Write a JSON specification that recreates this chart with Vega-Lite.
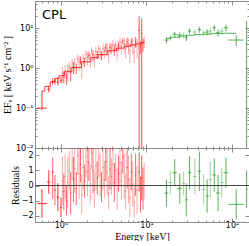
{
"$schema": "https://vega.github.io/schema/vega-lite/v6.json",
"padding": {"left": 2, "top": 0, "right": 2, "bottom": 0},
"spacing": 0,
"bounds": "flush",
"config": {"view": {"stroke": null}, "axis": {"domainColor": "#8c8c8c", "tickColor": "#8c8c8c", "labelFont": "DejaVu Sans", "labelFontSize": 8, "labelColor": "black", "titleFont": "Liberation Serif", "titleFontSize": 10, "titleFontWeight": "normal", "titleColor": "black", "grid": false, "labelOverlap": false, "labelFlush": false}},
"datasets": {
"red": [
{"E":0.60,"El":0.524,"Eh":0.686,"F":0.10,"Fl":0.09,"Fh":0.27,"R":-1.2,"Rl":-2.17,"Rh":-0.23,"o":0.8},
{"E":0.72,"El":0.69,"Eh":0.75,"F":0.30,"Fl":0.25,"Fh":0.36,"R":0.23,"Rl":-0.55,"Rh":1.01,"o":0.8},
{"E":0.80,"El":0.77,"Eh":0.83,"F":0.47,"Fl":0.38,"Fh":0.57,"R":0.9,"Rl":-0.9,"Rh":1.85,"o":0.6},
{"E":0.85,"El":0.83,"Eh":0.88,"F":0.47,"Fl":0.39,"Fh":0.56,"R":-0.3,"Rl":-1.3,"Rh":0.7,"o":0.6},
{"E":0.92,"El":0.89,"Eh":0.95,"F":0.45,"Fl":0.37,"Fh":0.60,"R":-0.77,"Rl":-1.7,"Rh":0.15,"o":0.8},
{"E":1.00,"El":0.97,"Eh":1.02,"F":0.50,"Fl":0.42,"Fh":0.60,"R":-1.47,"Rl":-2.1,"Rh":-0.8,"o":0.8},
{"E":1.04,"El":1.02,"Eh":1.06,"F":0.741,"Fl":0.415,"Fh":1.068,"R":0.3,"Rl":-1.3,"Rh":1.9,"o":0.35},
{"E":1.08,"El":1.06,"Eh":1.10,"F":0.639,"Fl":0.426,"Fh":0.852,"R":-0.4,"Rl":-1.6,"Rh":0.8,"o":0.6},
{"E":1.12,"El":1.10,"Eh":1.14,"F":0.873,"Fl":0.54,"Fh":1.206,"R":0.6,"Rl":-0.9,"Rh":2.1,"o":0.35},
{"E":1.16,"El":1.14,"Eh":1.18,"F":0.578,"Fl":0.385,"Fh":0.77,"R":-1.0,"Rl":-2.0,"Rh":0.0,"o":0.6},
{"E":1.20,"El":1.18,"Eh":1.225,"F":0.869,"Fl":0.451,"Fh":1.287,"R":0.2,"Rl":-1.5,"Rh":1.9,"o":0.35},
{"E":1.25,"El":1.225,"Eh":1.275,"F":1.118,"Fl":0.783,"Fh":1.453,"R":1.0,"Rl":-0.3,"Rh":2.3,"o":0.35},
{"E":1.30,"El":1.275,"Eh":1.325,"F":0.779,"Fl":0.467,"Fh":1.09,"R":-0.5,"Rl":-1.9,"Rh":0.9,"o":0.6},
{"E":1.35,"El":1.325,"Eh":1.375,"F":1.376,"Fl":1.042,"Fh":1.711,"R":1.6,"Rl":0.4,"Rh":2.8,"o":0.35},
{"E":1.40,"El":1.375,"Eh":1.425,"F":1.067,"Fl":0.703,"Fh":1.431,"R":0.4,"Rl":-1.1,"Rh":1.9,"o":0.6},
{"E":1.45,"El":1.425,"Eh":1.48,"F":1.343,"Fl":0.859,"Fh":1.828,"R":1.1,"Rl":-0.5,"Rh":2.7,"o":0.35},
{"E":1.51,"El":1.48,"Eh":1.54,"F":1.007,"Fl":0.716,"Fh":1.299,"R":-0.2,"Rl":-1.3,"Rh":0.9,"o":0.6},
{"E":1.57,"El":1.54,"Eh":1.60,"F":1.76,"Fl":1.331,"Fh":2.189,"R":2.0,"Rl":0.7,"Rh":3.3,"o":0.35},
{"E":1.63,"El":1.60,"Eh":1.66,"F":1.426,"Fl":0.84,"Fh":2.013,"R":0.8,"Rl":-0.9,"Rh":2.5,"o":0.35},
{"E":1.69,"El":1.66,"Eh":1.72,"F":1.607,"Fl":1.25,"Fh":1.964,"R":1.4,"Rl":0.2,"Rh":2.6,"o":0.6},
{"E":1.75,"El":1.72,"Eh":1.785,"F":1.017,"Fl":0.533,"Fh":1.5,"R":-0.6,"Rl":-1.9,"Rh":0.7,"o":0.35},
{"E":1.82,"El":1.785,"Eh":1.855,"F":1.754,"Fl":1.174,"Fh":2.335,"R":1.2,"Rl":-0.3,"Rh":2.7,"o":0.35},
{"E":1.89,"El":1.855,"Eh":1.925,"F":1.451,"Fl":1.08,"Fh":1.823,"R":0.3,"Rl":-0.8,"Rh":1.4,"o":0.6},
{"E":1.96,"El":1.925,"Eh":2.0,"F":2.214,"Fl":1.622,"Fh":2.806,"R":1.9,"Rl":0.5,"Rh":3.3,"o":0.35},
{"E":2.04,"El":2.0,"Eh":2.08,"F":1.88,"Fl":1.169,"Fh":2.59,"R":0.9,"Rl":-0.7,"Rh":2.5,"o":0.35},
{"E":2.12,"El":2.08,"Eh":2.16,"F":2.118,"Fl":1.656,"Fh":2.58,"R":1.5,"Rl":0.3,"Rh":2.7,"o":0.6},
{"E":2.20,"El":2.16,"Eh":2.24,"F":1.658,"Fl":1.03,"Fh":2.286,"R":0.1,"Rl":-1.2,"Rh":1.4,"o":0.35},
{"E":2.28,"El":2.24,"Eh":2.325,"F":2.772,"Fl":2.221,"Fh":3.323,"R":2.2,"Rl":1.1,"Rh":3.3,"o":0.35},
{"E":2.37,"El":2.325,"Eh":2.415,"F":2.175,"Fl":1.523,"Fh":2.828,"R":1.0,"Rl":-0.5,"Rh":2.5,"o":0.6},
{"E":2.46,"El":2.415,"Eh":2.51,"F":1.656,"Fl":1.001,"Fh":2.311,"R":-0.3,"Rl":-1.5,"Rh":0.9,"o":0.35},
{"E":2.56,"El":2.51,"Eh":2.61,"F":2.627,"Fl":1.72,"Fh":3.534,"R":1.3,"Rl":-0.3,"Rh":2.9,"o":0.35},
{"E":2.66,"El":2.61,"Eh":2.71,"F":2.205,"Fl":1.666,"Fh":2.744,"R":0.5,"Rl":-0.6,"Rh":1.6,"o":0.6},
{"E":2.76,"El":2.71,"Eh":2.815,"F":3.142,"Fl":2.346,"Fh":3.937,"R":1.8,"Rl":0.5,"Rh":3.1,"o":0.35},
{"E":2.87,"El":2.815,"Eh":2.925,"F":2.553,"Fl":1.667,"Fh":3.439,"R":0.7,"Rl":-0.7,"Rh":2.1,"o":0.35},
{"E":2.98,"El":2.925,"Eh":3.04,"F":2.135,"Fl":1.588,"Fh":2.683,"R":-0.1,"Rl":-1.1,"Rh":0.9,"o":0.6},
{"E":3.10,"El":3.04,"Eh":3.16,"F":3.074,"Fl":2.057,"Fh":4.091,"R":1.2,"Rl":-0.3,"Rh":2.7,"o":0.35},
{"E":3.22,"El":3.16,"Eh":3.28,"F":2.61,"Fl":1.771,"Fh":3.448,"R":0.4,"Rl":-0.8,"Rh":1.6,"o":0.35},
{"E":3.34,"El":3.28,"Eh":3.405,"F":3.36,"Fl":2.58,"Fh":4.14,"R":1.6,"Rl":0.3,"Rh":2.9,"o":0.6},
{"E":3.47,"El":3.405,"Eh":3.54,"F":3.137,"Fl":1.951,"Fh":4.323,"R":0.9,"Rl":-0.7,"Rh":2.5,"o":0.35},
{"E":3.61,"El":3.54,"Eh":3.68,"F":2.168,"Fl":1.326,"Fh":3.009,"R":-0.5,"Rl":-1.6,"Rh":0.6,"o":0.35},
{"E":3.75,"El":3.68,"Eh":3.825,"F":3.341,"Fl":2.424,"Fh":4.258,"R":1.1,"Rl":-0.3,"Rh":2.5,"o":0.6},
{"E":3.90,"El":3.825,"Eh":3.975,"F":3.186,"Fl":2.214,"Fh":4.158,"R":0.6,"Rl":-0.6,"Rh":1.8,"o":0.35},
{"E":4.05,"El":3.975,"Eh":4.13,"F":3.933,"Fl":2.687,"Fh":5.18,"R":1.4,"Rl":-0.1,"Rh":2.9,"o":0.35},
{"E":4.21,"El":4.13,"Eh":4.29,"F":2.993,"Fl":2.066,"Fh":3.919,"R":0.2,"Rl":-1.1,"Rh":1.5,"o":0.6},
{"E":4.37,"El":4.29,"Eh":4.455,"F":3.796,"Fl":2.832,"Fh":4.76,"R":1.0,"Rl":-0.1,"Rh":2.1,"o":0.35},
{"E":4.54,"El":4.455,"Eh":4.63,"F":2.82,"Fl":1.56,"Fh":4.08,"R":-0.2,"Rl":-1.6,"Rh":1.2,"o":0.35},
{"E":4.72,"El":4.63,"Eh":4.81,"F":3.696,"Fl":2.772,"Fh":4.62,"R":0.8,"Rl":-0.4,"Rh":2.0,"o":0.6},
{"E":4.90,"El":4.81,"Eh":4.995,"F":4.582,"Fl":3.065,"Fh":6.099,"R":1.5,"Rl":-0.1,"Rh":3.1,"o":0.35},
{"E":5.09,"El":4.995,"Eh":5.19,"F":3.521,"Fl":2.261,"Fh":4.78,"R":0.3,"Rl":-1.0,"Rh":1.6,"o":0.35},
{"E":5.29,"El":5.19,"Eh":5.395,"F":4.868,"Fl":3.96,"Fh":5.775,"R":1.9,"Rl":0.8,"Rh":3.0,"o":0.6},
{"E":5.50,"El":5.395,"Eh":5.605,"F":3.977,"Fl":2.46,"Fh":5.493,"R":0.6,"Rl":-0.9,"Rh":2.1,"o":0.35},
{"E":5.71,"El":5.605,"Eh":5.82,"F":3.036,"Fl":1.794,"Fh":4.278,"R":-0.4,"Rl":-1.6,"Rh":0.8,"o":0.35},
{"E":5.93,"El":5.82,"Eh":6.045,"F":4.576,"Fl":3.344,"Fh":5.808,"R":1.2,"Rl":-0.2,"Rh":2.6,"o":0.6},
{"E":6.16,"El":6.045,"Eh":6.28,"F":4.032,"Fl":2.304,"Fh":5.76,"R":0.4,"Rl":-1.2,"Rh":2.0,"o":0.35},
{"E":6.40,"El":6.28,"Eh":6.525,"F":2.789,"Fl":1.358,"Fh":4.221,"R":-0.8,"Rl":-2.1,"Rh":0.5,"o":0.35},
{"E":6.65,"El":6.525,"Eh":6.78,"F":4.582,"Fl":3.46,"Fh":5.704,"R":0.9,"Rl":-0.3,"Rh":2.1,"o":0.6},
{"E":6.91,"El":6.78,"Eh":7.045,"F":3.935,"Fl":2.216,"Fh":5.654,"R":0.1,"Rl":-1.4,"Rh":1.6,"o":0.35},
{"E":7.18,"El":7.045,"Eh":7.32,"F":2.606,"Fl":1.323,"Fh":3.89,"R":-1.1,"Rl":-2.2,"Rh":0.0,"o":0.35},
{"E":7.46,"El":7.32,"Eh":7.605,"F":4.641,"Fl":3.259,"Fh":6.024,"R":0.7,"Rl":-0.7,"Rh":2.1,"o":0.6},
{"E":7.75,"El":7.605,"Eh":7.90,"F":3.658,"Fl":1.729,"Fh":5.588,"R":-0.3,"Rl":-1.9,"Rh":1.3,"o":0.35},
{"E":8.20,"El":8.0,"Eh":8.4,"F":9.0,"Fl":0.001,"Fh":20,"R":0.9,"Rl":-0.4,"Rh":2.2,"o":0.7},
{"E":8.50,"El":8.4,"Eh":8.6,"F":3.545,"Fl":2.294,"Fh":4.796,"R":-0.6,"Rl":-1.8,"Rh":0.6,"o":0.6},
{"E":8.80,"El":8.6,"Eh":9.0,"F":7.5,"Fl":0.001,"Fh":18,"R":0.5,"Rl":-1.0,"Rh":2.0,"o":0.7},
{"E":9.10,"El":9.0,"Eh":9.2,"F":4.123,"Fl":2.604,"Fh":5.642,"R":-0.2,"Rl":-1.6,"Rh":1.2,"o":0.6},
{"E":9.40,"El":9.2,"Eh":9.6,"F":4.818,"Fl":3.227,"Fh":6.409,"R":0.3,"Rl":-0.9,"Rh":1.5,"o":0.35}
],
"green": [
{"E":17.1,"El":16.2,"Eh":18.1,"F":5.1,"Fl":4.2,"Fh":6.0,"R":-0.5,"Rl":-1.4,"Rh":0.4,"o":0.8},
{"E":19.0,"El":18.1,"Eh":20.1,"F":5.8,"Fl":4.9,"Fh":6.8,"R":0.2,"Rl":-0.6,"Rh":1.0,"o":0.45},
{"E":21.4,"El":20.1,"Eh":22.7,"F":7.1,"Fl":6.0,"Fh":8.2,"R":0.85,"Rl":-0.05,"Rh":1.75,"o":0.8},
{"E":24.5,"El":22.7,"Eh":25.8,"F":6.8,"Fl":5.6,"Fh":8.0,"R":-0.2,"Rl":-1.2,"Rh":0.8,"o":0.8},
{"E":27.2,"El":25.8,"Eh":28.3,"F":6.8,"Fl":5.7,"Fh":7.9,"R":0.15,"Rl":-0.65,"Rh":0.95,"o":0.45},
{"E":29.2,"El":28.3,"Eh":30.5,"F":5.8,"Fl":4.8,"Fh":7.0,"R":-0.95,"Rl":-2.05,"Rh":0.15,"o":0.8},
{"E":31.9,"El":30.5,"Eh":33.3,"F":8.6,"Fl":7.2,"Fh":10.0,"R":0.85,"Rl":-0.25,"Rh":1.95,"o":0.8},
{"E":36.7,"El":35.0,"Eh":38.5,"F":8.1,"Fl":6.8,"Fh":9.5,"R":0.6,"Rl":-0.6,"Rh":1.8,"o":0.45},
{"E":41.5,"El":39.5,"Eh":43.5,"F":9.4,"Fl":7.8,"Fh":11.0,"R":0.95,"Rl":-0.35,"Rh":2.25,"o":0.8},
{"E":46.6,"El":44.5,"Eh":49.0,"F":7.8,"Fl":6.4,"Fh":9.2,"R":-0.25,"Rl":-1.25,"Rh":0.75,"o":0.45},
{"E":51.2,"El":49.0,"Eh":53.5,"F":8.1,"Fl":6.6,"Fh":9.6,"R":-0.7,"Rl":-1.8,"Rh":0.4,"o":0.8},
{"E":55.7,"El":53.5,"Eh":58.5,"F":8.6,"Fl":7.0,"Fh":10.2,"R":0.4,"Rl":-0.8,"Rh":1.6,"o":0.45},
{"E":62.0,"El":59.0,"Eh":65.0,"F":10.4,"Fl":8.6,"Fh":12.2,"R":0.7,"Rl":-0.4,"Rh":1.8,"o":0.8},
{"E":68.7,"El":65.0,"Eh":72.0,"F":7.8,"Fl":6.2,"Fh":9.4,"R":-0.5,"Rl":-1.7,"Rh":0.7,"o":0.8},
{"E":76.0,"El":72.0,"Eh":80.0,"F":8.6,"Fl":6.8,"Fh":10.4,"R":0.2,"Rl":-0.8,"Rh":1.2,"o":0.45},
{"E":85.0,"El":80.0,"Eh":90.0,"F":10.4,"Fl":8.4,"Fh":12.4,"R":0.85,"Rl":-0.15,"Rh":1.85,"o":0.8},
{"E":112,"El":91,"Eh":137,"F":5.1,"Fl":3.6,"Fh":6.8,"R":-1.25,"Rl":-2.25,"Rh":-0.25,"o":0.8},
{"E":148,"El":145,"Eh":152,"F":4.0,"Fl":0.001,"Fh":15,"R":-0.25,"Rl":-1.5,"Rh":1.0,"o":0.8}
],
"redm": [
{"E":0.60,"M":0.27},{"E":0.70,"M":0.35},{"E":0.80,"M":0.45},{"E":0.90,"M":0.55},{"E":1.0,"M":0.65},{"E":1.2,"M":0.82},{"E":1.5,"M":1.05},{"E":2.0,"M":1.45},{"E":2.5,"M":1.85},{"E":3.0,"M":2.2},{"E":4.0,"M":2.75},{"E":5.0,"M":3.2},{"E":6.0,"M":3.55},{"E":7.0,"M":3.85},{"E":8.0,"M":4.1},{"E":9.5,"M":4.45}
],
"greenm": [
{"E":17.1,"M":5.6},{"E":21.4,"M":6.0},{"E":27.2,"M":6.4},{"E":31.9,"M":6.7},{"E":41.5,"M":7.0},{"E":51.2,"M":7.2},{"E":62,"M":7.4},{"E":76,"M":7.5},{"E":85,"M":7.6},{"E":112,"M":7.5}
],
"ticks": [{"v": -2}, {"v": -1}, {"v": 0}, {"v": 1}, {"v": 2}],
"label": [{"t": "CPL", "x": 0.6, "y": 16.8}]
},
"vconcat": [
{
"width": 214, "height": 147,
"layer": [
{"layer": [
{"data": {"name": "red"}, "mark": {"type": "rule", "color": "red", "clip": true},
 "encoding": {
  "x": {"field": "E", "type": "quantitative", "scale": {"type": "log", "domain": [0.497, 158], "nice": false},
        "axis": {"values": [0.5,0.6,0.7,0.8,0.9,1,2,3,4,5,6,7,8,9,10,20,30,40,50,60,70,80,90,100], "labels": false, "title": null, "tickSize": {"condition": {"test": "indexof([1,10,100], datum.value) >= 0", "value": -4}, "value": -2}}},
  "y": {"field": "Fl", "type": "quantitative", "scale": {"type": "log", "domain": [0.01, 48.7], "nice": false},
        "axis": {"values": [0.01,0.02,0.03,0.04,0.05,0.06,0.07,0.08,0.09,0.1,0.2,0.3,0.4,0.5,0.6,0.7,0.8,0.9,1,2,3,4,5,6,7,8,9,10,20,30,40],
                 "labelExpr": "datum.value == 10 ? '10¹' : datum.value == 1 ? '10⁰' : datum.value == 0.1 ? '10⁻¹' : datum.value == 0.01 ? '10⁻²' : ''",
                 "tickSize": {"condition": {"test": "indexof([0.01,0.1,1,10], datum.value) >= 0", "value": -4}, "value": -2},
                 "labelOverlap": false, "labelPadding": 6, "title": "EFₑ [ keV s⁻¹ cm⁻² ]", "titlePadding": 3}},
  "y2": {"field": "Fh"},
  "opacity": {"field": "o", "type": "quantitative", "scale": null}}},
{"data": {"name": "red"}, "mark": {"type": "rule", "color": "red", "clip": true},
 "encoding": {"x": {"field": "El", "type": "quantitative"}, "x2": {"field": "Eh"}, "y": {"field": "F", "type": "quantitative"}, "opacity": {"field": "o", "type": "quantitative", "scale": null}}},
{"data": {"name": "green"}, "mark": {"type": "rule", "color": "#2ca02c", "clip": true},
 "encoding": {"x": {"field": "E", "type": "quantitative"}, "y": {"field": "Fl", "type": "quantitative"}, "y2": {"field": "Fh"}, "opacity": {"field": "o", "type": "quantitative", "scale": null}}},
{"data": {"name": "green"}, "mark": {"type": "rule", "color": "#2ca02c", "clip": true},
 "encoding": {"x": {"field": "El", "type": "quantitative"}, "x2": {"field": "Eh"}, "y": {"field": "F", "type": "quantitative"}, "opacity": {"field": "o", "type": "quantitative", "scale": null}}},
{"data": {"name": "redm"}, "mark": {"type": "line", "color": "red", "opacity": 0.8, "strokeWidth": 1, "interpolate": "step", "clip": true},
 "encoding": {"x": {"field": "E", "type": "quantitative"}, "y": {"field": "M", "type": "quantitative"}}},
{"data": {"name": "greenm"}, "mark": {"type": "line", "color": "#2ca02c", "opacity": 0.8, "strokeWidth": 1, "interpolate": "step", "clip": true},
 "encoding": {"x": {"field": "E", "type": "quantitative"}, "y": {"field": "M", "type": "quantitative"}}},
{"data": {"name": "label"}, "mark": {"type": "text", "align": "left", "baseline": "alphabetic", "font": "DejaVu Sans", "fontSize": 13, "color": "black"},
 "encoding": {"x": {"field": "x", "type": "quantitative"}, "y": {"field": "y", "type": "quantitative"}, "text": {"field": "t"}}}
]},
{"data": {"name": "red"}, "mark": {"type": "point", "opacity": 0},
 "encoding": {
  "x": {"field": "E", "type": "quantitative", "axis": {"orient": "top", "values": [0.5,0.6,0.7,0.8,0.9,1,2,3,4,5,6,7,8,9,10,20,30,40,50,60,70,80,90,100], "labels": false, "title": null, "tickSize": {"condition": {"test": "indexof([1,10,100], datum.value) >= 0", "value": -4}, "value": -2}}},
  "y": {"field": "F", "type": "quantitative", "axis": {"orient": "right", "values": [0.01,0.02,0.03,0.04,0.05,0.06,0.07,0.08,0.09,0.1,0.2,0.3,0.4,0.5,0.6,0.7,0.8,0.9,1,2,3,4,5,6,7,8,9,10,20,30,40], "labels": false, "title": null, "tickSize": {"condition": {"test": "indexof([0.01,0.1,1,10], datum.value) >= 0", "value": -4}, "value": -2}}}}}
],
"resolve": {"axis": {"x": "independent", "y": "independent"}}
},
{
"width": 214, "height": 74,
"layer": [
{"data": {"name": "ticks"}, "mark": {"type": "rule", "color": "#444444", "strokeWidth": 1, "opacity": 0},
 "encoding": {
  "x": {"datum": 0.497, "type": "quantitative", "scale": {"type": "log", "domain": [0.497, 158], "nice": false},
        "axis": {"values": [0.5,0.6,0.7,0.8,0.9,1,2,3,4,5,6,7,8,9,10,20,30,40,50,60,70,80,90,100],
                 "labelExpr": "datum.value == 1 ? '10⁰' : datum.value == 10 ? '10¹' : datum.value == 100 ? '10²' : ''",
                 "tickSize": {"condition": {"test": "indexof([1,10,100], datum.value) >= 0", "value": -4}, "value": -2},
                 "labelOverlap": false, "labelPadding": 3, "title": "Energy [keV]", "titlePadding": 0}},
  "y": {"field": "v", "type": "quantitative", "scale": {"domain": [-2.42, 2.49], "nice": false, "zero": false},
        "axis": {"values": [-2,-1,0,1,2], "tickSize": -4, "labelOverlap": false, "labelPadding": 6, "title": "Residuals", "titlePadding": 1}}}},
{"layer": [
{"data": {"name": "red"}, "mark": {"type": "rule", "color": "red", "clip": true},
 "encoding": {
  "x": {"field": "E", "type": "quantitative", "axis": {"orient": "top", "values": [0.5,0.6,0.7,0.8,0.9,1,2,3,4,5,6,7,8,9,10,20,30,40,50,60,70,80,90,100], "labels": false, "title": null, "tickSize": {"condition": {"test": "indexof([1,10,100], datum.value) >= 0", "value": -4}, "value": -2}}},
  "y": {"field": "Rl", "type": "quantitative", "axis": {"orient": "right", "values": [-2,-1,0,1,2], "labels": false, "title": null, "tickSize": -4}},
  "y2": {"field": "Rh"},
  "opacity": {"field": "o", "type": "quantitative", "scale": null}}},
{"data": {"name": "red"}, "mark": {"type": "rule", "color": "red", "clip": true},
 "encoding": {"x": {"field": "El", "type": "quantitative"}, "x2": {"field": "Eh"}, "y": {"field": "R", "type": "quantitative"}, "opacity": {"field": "o", "type": "quantitative", "scale": null}}},
{"data": {"name": "green"}, "mark": {"type": "rule", "color": "#2ca02c", "clip": true},
 "encoding": {"x": {"field": "E", "type": "quantitative"}, "y": {"field": "Rl", "type": "quantitative"}, "y2": {"field": "Rh"}, "opacity": {"field": "o", "type": "quantitative", "scale": null}}},
{"data": {"name": "green"}, "mark": {"type": "rule", "color": "#2ca02c", "clip": true},
 "encoding": {"x": {"field": "El", "type": "quantitative"}, "x2": {"field": "Eh"}, "y": {"field": "R", "type": "quantitative"}, "opacity": {"field": "o", "type": "quantitative", "scale": null}}},
{"data": {"values": [{"z": 0}]}, "mark": {"type": "rule", "color": "#444444", "strokeWidth": 1},
 "encoding": {"y": {"field": "z", "type": "quantitative"}}}
]}
],
"resolve": {"axis": {"x": "independent", "y": "independent"}}
}
]
}
